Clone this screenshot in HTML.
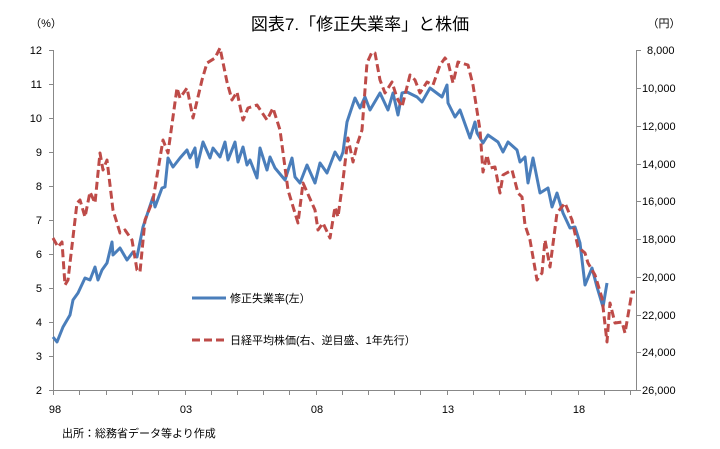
<!DOCTYPE html>
<html><head><meta charset="utf-8"><style>
body{margin:0;background:#fff;}
svg{display:block;font-family:"Liberation Sans","Noto Sans CJK JP",sans-serif;}
</style></head><body>
<svg width="720" height="449" viewBox="0 0 720 449">
<rect width="720" height="449" fill="#fff"/>
<text x="360" y="30" font-size="17" text-anchor="middle" fill="#000">図表7.「修正失業率」と株価</text>
<text x="46" y="27" font-size="11" text-anchor="middle">（%）</text>
<text x="664" y="27" font-size="11" text-anchor="middle">（円）</text>
<g stroke="#888" stroke-width="1" fill="none">
<line x1="53.5" y1="50" x2="53.5" y2="390"/>
<line x1="636.5" y1="50" x2="636.5" y2="390"/>
<line x1="53" y1="390.5" x2="637" y2="390.5"/>
<path d="M49 50.5h5M49 84.5h5M49 118.5h5M49 152.5h5M49 186.5h5M49 220.5h5M49 254.5h5M49 288.5h5M49 322.5h5M49 356.5h5M49 390.5h5"/>
<path d="M636 50.5h5M636 88.5h5M636 126.5h5M636 164.5h5M636 201.5h5M636 239.5h5M636 277.5h5M636 315.5h5M636 352.5h5M636 390.5h5"/>
<path d="M53.5 390v5M79.5 390v5M106.5 390v5M132.5 390v5M158.5 390v5M185.5 390v5M211.5 390v5M237.5 390v5M263.5 390v5M289.5 390v5M316.5 390v5M342.5 390v5M368.5 390v5M394.5 390v5M420.5 390v5M447.5 390v5M473.5 390v5M499.5 390v5M525.5 390v5M551.5 390v5M578.5 390v5M604.5 390v5M630.5 390v5"/>
</g>
<g font-size="11" text-anchor="end">
<text x="42" y="54">12</text><text x="42" y="88">11</text><text x="42" y="122">10</text><text x="42" y="156">9</text><text x="42" y="190">8</text><text x="42" y="224">7</text><text x="42" y="258">6</text><text x="42" y="292">5</text><text x="42" y="326">4</text><text x="42" y="360">3</text><text x="42" y="394">2</text>
</g>
<g font-size="11" text-anchor="start">
<text x="647" y="54">8,000</text><text x="642" y="92">10,000</text><text x="642" y="130">12,000</text><text x="642" y="168">14,000</text><text x="642" y="205">16,000</text><text x="642" y="243">18,000</text><text x="642" y="281">20,000</text><text x="642" y="319">22,000</text><text x="642" y="356">24,000</text><text x="642" y="394">26,000</text>
</g>
<g font-size="11" text-anchor="middle">
<text x="55" y="413">98</text><text x="186" y="413">03</text><text x="317" y="413">08</text><text x="448" y="413">13</text><text x="579" y="413">18</text>
</g>
<text x="62" y="437" font-size="11">出所：総務省データ等より作成</text>
<polyline fill="none" stroke="#4a7ebb" stroke-width="3" stroke-linejoin="round" points="53,337 57,342 63,327 70,315 73,300 78,293 85,278 90,280 95,267 98,280 102,270 107,263 112,242 113,255 120,248 127,260 133,252 137,257 143,227 153,197 155,207 162,188 165,187 168,158 173,167 180,158 187,150 190,158 195,148 197,167 203,142 210,158 213,148 220,157 225,142 228,160 235,142 238,162 243,147 247,165 250,160 257,178 260,148 267,170 270,157 275,168 285,180 292,158 295,177 300,183 307,165 315,183 320,163 327,173 335,152 340,160 343,152 347,122 355,98 360,108 365,97 370,110 380,93 388,110 393,93 398,115 402,93 407,92 417,97 422,102 430,88 442,97 447,85 448,103 455,117 460,110 470,138 475,122 477,133 483,143 488,135 498,142 503,152 508,142 517,150 520,162 525,157 528,183 533,158 540,193 548,188 552,207 557,193 563,213 570,228 575,227 580,243 585,285 592,268 597,287 603,307 607,283"/>
<polyline fill="none" stroke="#be4b48" stroke-width="3" stroke-dasharray="8,4" stroke-linejoin="round" points="53,238 58,247 62,242 65,285 68,280 77,203 80,200 85,217 90,192 95,203 100,153 103,170 107,160 113,210 120,233 125,230 132,240 137,270 140,272 145,220 153,200 163,140 168,153 177,88 180,98 187,88 193,118 202,80 207,63 215,58 220,48 227,82 232,100 237,92 243,120 248,108 257,105 267,120 273,108 280,130 288,190 298,223 303,183 315,210 318,230 323,223 330,238 335,207 338,217 343,180 348,138 353,162 357,145 362,130 367,63 372,52 375,53 380,80 385,93 392,82 397,98 402,107 410,75 415,80 420,93 427,82 433,85 440,65 445,58 448,62 453,83 458,62 468,65 473,85 480,130 483,172 487,155 490,168 495,167 500,193 503,175 512,170 518,193 522,197 525,225 530,240 537,280 542,273 545,240 550,267 557,213 565,203 572,220 578,247 585,253 588,263 595,275 602,298 607,342 610,303 615,323 622,322 625,333 632,292 635,292"/>
<line x1="192" y1="298" x2="226" y2="298" stroke="#4a7ebb" stroke-width="3"/>
<text x="230" y="302" font-size="11">修正失業率(左）</text>
<line x1="192" y1="340" x2="226" y2="340" stroke="#be4b48" stroke-width="3" stroke-dasharray="8,4"/>
<text x="230" y="344" font-size="11">日経平均株価(右、逆目盛、1年先行）</text>
</svg>
</body></html>
